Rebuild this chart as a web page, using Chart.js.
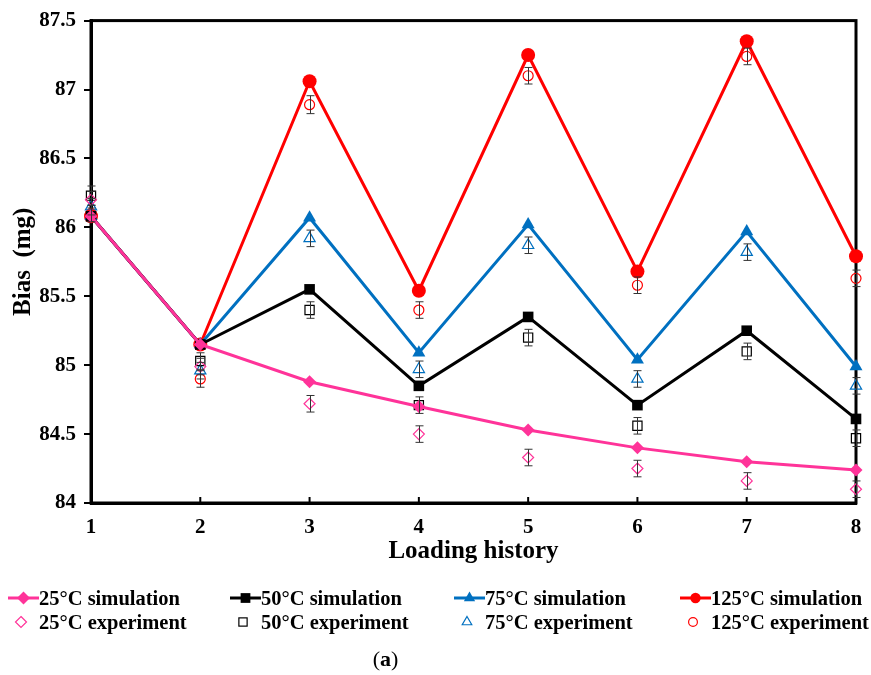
<!DOCTYPE html>
<html>
<head>
<meta charset="utf-8">
<script src="https://cdn.jsdelivr.net/npm/chart.js@4.4.1/dist/chart.umd.min.js"></script>
<style>
  body { margin: 0; background: #fff; }
  #wrap { position: relative; width: 871px; height: 675px; font-family: "Liberation Serif", "Times New Roman", serif; font-weight: bold; }
  #biasChart { position: absolute; left: 0; top: 0; }
  .leg { position: absolute; height: 24px; line-height: 24px; font-size: 20.5px; white-space: nowrap; }
  .leg svg { position: absolute; top: 0; }
  .leg span { position: absolute; top: 0; }
  #caption { position: absolute; left: 0; width: 771px; top: 646px; text-align: center; font-size: 22px; }
  #caption span { font-weight: normal; }
</style>
</head>
<body>
<div id="wrap">
  <canvas id="biasChart" width="871" height="675"></canvas>
  <div id="legend"></div>
  <div id="caption"><span>(</span>a<span>)</span></div>
</div>
<script>
// loading steps and y ticks
const steps = [1, 2, 3, 4, 5, 6, 7, 8];
const yMin = 84, yMax = 87.5, yStep = 0.5;

// simulation values (mg)
const sim25 = [86.08, 85.15, 84.88, 84.70, 84.53, 84.40, 84.30, 84.24];
const sim50 = [86.08, 85.15, 85.55, 84.85, 85.35, 84.71, 85.25, 84.61];
const sim75 = [86.08, 85.15, 86.07, 85.09, 86.02, 85.04, 85.97, 84.99];
const sim125 = [86.08, 85.15, 87.06, 85.54, 87.25, 85.68, 87.35, 85.79];

// experiment values (mg) and error half-ranges
const exp25 = [86.20, 84.99, 84.72, 84.50, 84.33, 84.25, 84.16, 84.10];
const exp50 = [86.23, 85.03, 85.40, 84.71, 85.20, 84.56, 85.10, 84.47];
const exp75 = [86.15, 84.96, 85.92, 84.97, 85.87, 84.90, 85.82, 84.85];
const exp125 = [86.10, 84.90, 86.89, 85.40, 87.10, 85.58, 87.24, 85.63];
const err25 = [0.06, 0.06, 0.06, 0.06, 0.06, 0.06, 0.06, 0.06];
const err50 = [0.07, 0.06, 0.06, 0.06, 0.06, 0.06, 0.06, 0.06];
const err75 = [0.06, 0.06, 0.06, 0.06, 0.06, 0.06, 0.06, 0.06];
const err125 = [0.06, 0.06, 0.065, 0.06, 0.06, 0.06, 0.06, 0.06];

const pink = "#ff3399", blue = "#0070c0", red = "#ff0000", black = "#000000";
const FONT = "'Liberation Serif', 'Times New Roman', serif";

const pts = (vals) => steps.map((s, i) => ({ x: s, y: vals[i] }));

const simSet = (label, vals, color, style, r) => ({
  label: label, data: pts(vals), borderColor: color, backgroundColor: color,
  borderWidth: 3, pointStyle: style, pointRadius: r, pointBorderWidth: 0,
  pointBackgroundColor: color, order: 1, clip: false, tension: 0
});
const expSet = (label, vals, errs, color, style, r) => ({
  label: label, data: pts(vals), errors: errs, showLine: false,
  borderColor: color, backgroundColor: "rgba(0,0,0,0)", pointStyle: style,
  pointRadius: r, pointBorderWidth: 1.2, pointBorderColor: color,
  pointBackgroundColor: "rgba(0,0,0,0)", order: 2, clip: false
});

const datasets = [
  simSet("25°C simulation", sim25, pink, "rectRot", 6.5),
  simSet("50°C simulation", sim50, black, "rect", 7.5),
  simSet("75°C simulation", sim75, blue, "triangle", 7.5),
  simSet("125°C simulation", sim125, red, "circle", 7),
  expSet("25°C experiment", exp25, err25, pink, "rectRot", 5.5),
  expSet("50°C experiment", exp50, err50, black, "rect", 6.5),
  expSet("75°C experiment", exp75, err75, blue, "triangle", 6.5),
  expSet("125°C experiment", exp125, err125, red, "circle", 5)
];

// frame round the plot area, inward x ticks
const framePlugin = {
  id: "frame",
  beforeDatasetsDraw(chart) {
    const { ctx, chartArea: a, scales } = chart;
    ctx.save();
    ctx.strokeStyle = black;
    ctx.lineWidth = 3;
    ctx.strokeRect(a.left, a.top, a.right - a.left, a.bottom - a.top);
    ctx.lineWidth = 2;
    steps.forEach(s => {
      const px = scales.x.getPixelForValue(s);
      ctx.beginPath();
      ctx.moveTo(px, a.bottom);
      ctx.lineTo(px, a.bottom - 6);
      ctx.stroke();
    });
    ctx.restore();
  }
};

// error bars on the experiment series
const errorPlugin = {
  id: "errorBars",
  afterDatasetsDraw(chart) {
    const { ctx, scales } = chart;
    ctx.save();
    ctx.strokeStyle = "#333";
    ctx.lineWidth = 1;
    chart.data.datasets.forEach(ds => {
      if (!ds.errors) return;
      ds.data.forEach((p, i) => {
        const x = Math.round(scales.x.getPixelForValue(p.x)) + 0.5;
        const y1 = scales.y.getPixelForValue(p.y + ds.errors[i]);
        const y2 = scales.y.getPixelForValue(p.y - ds.errors[i]);
        ctx.beginPath();
        ctx.moveTo(x, y1); ctx.lineTo(x, y2);
        ctx.moveTo(x - 4, y1); ctx.lineTo(x + 4, y1);
        ctx.moveTo(x - 4, y2); ctx.lineTo(x + 4, y2);
        ctx.stroke();
      });
    });
    ctx.restore();
  }
};

new Chart(document.getElementById("biasChart").getContext("2d"), {
  type: "line",
  data: { datasets: datasets },
  plugins: [framePlugin, errorPlugin],
  options: {
    responsive: false,
    animation: false,
    layout: { padding: { left: 0, top: 17, right: 15, bottom: 100 } },
    plugins: { legend: { display: false }, tooltip: { enabled: false } },
    scales: {
      x: {
        type: "linear", min: 1, max: 8,
        afterFit: (s) => { s.height = 72; },
        grid: { display: false },
        border: { display: true, color: black, width: 3 },
        ticks: { stepSize: 1, autoSkip: false, padding: 4, color: black,
                 font: { family: FONT, size: 21, weight: "bold" } },
        title: { display: true, text: "Loading history", color: black,
                 padding: { top: 0, bottom: 8 },
                 font: { family: FONT, size: 25, weight: "bold" } }
      },
      y: {
        min: yMin, max: yMax,
        afterFit: (s) => { s.width = 91; },
        grid: { drawOnChartArea: false, tickLength: 7, color: black, lineWidth: 2 },
        border: { display: true, color: black, width: 3 },
        ticks: { stepSize: yStep, padding: 8, color: black,
                 callback: (v) => String(Math.round(v * 10) / 10),
                 font: { family: FONT, size: 21, weight: "bold" } },
        title: { display: true, text: "Bias  (mg)", color: black,
                 padding: { top: 9, bottom: 0 },
                 font: { family: FONT, size: 25, weight: "bold" } }
      }
    }
  }
});

// legend below the chart, two rows of four
const legendItems = [
  { text: "25°C simulation", color: pink, shape: "diamond", line: true, left: 8, top: 586 },
  { text: "50°C simulation", color: black, shape: "square", line: true, left: 230, top: 586 },
  { text: "75°C simulation", color: blue, shape: "triangle", line: true, left: 454, top: 586 },
  { text: "125°C simulation", color: red, shape: "circle", line: true, left: 680, top: 586 },
  { text: "25°C experiment", color: pink, shape: "diamond", line: false, left: 8, top: 610 },
  { text: "50°C experiment", color: black, shape: "square", line: false, left: 230, top: 610 },
  { text: "75°C experiment", color: blue, shape: "triangle", line: false, left: 454, top: 610 },
  { text: "125°C experiment", color: red, shape: "circle", line: false, left: 680, top: 610 }
];

function markerSvg(shape, color, filled, cx, cy, r) {
  const fill = filled ? color : "none";
  const sw = filled ? 0 : 1.2;
  if (shape === "diamond")
    return `<polygon points="${cx},${cy - r} ${cx + r},${cy} ${cx},${cy + r} ${cx - r},${cy}" fill="${fill}" stroke="${color}" stroke-width="${sw}"/>`;
  if (shape === "square")
    return `<rect x="${cx - r * 0.75}" y="${cy - r * 0.75}" width="${r * 1.5}" height="${r * 1.5}" fill="${fill}" stroke="${color}" stroke-width="${sw}"/>`;
  if (shape === "triangle")
    return `<polygon points="${cx},${cy - r} ${cx + r * 0.87},${cy + r * 0.5} ${cx - r * 0.87},${cy + r * 0.5}" fill="${fill}" stroke="${color}" stroke-width="${sw}"/>`;
  return `<circle cx="${cx}" cy="${cy}" r="${r * 0.8}" fill="${fill}" stroke="${color}" stroke-width="${sw}"/>`;
}

const legendBox = document.getElementById("legend");
legendItems.forEach(it => {
  const div = document.createElement("div");
  div.className = "leg";
  div.style.left = it.left + "px";
  div.style.top = it.top + "px";
  let svg;
  if (it.line) {
    svg = `<svg width="31" height="24" style="left:0"><line x1="0" y1="12" x2="31" y2="12" stroke="${it.color}" stroke-width="3"/>${markerSvg(it.shape, it.color, true, 15.5, 12, 6.5)}</svg>`;
  } else {
    svg = `<svg width="31" height="24" style="left:0">${markerSvg(it.shape, it.color, false, 13, 12, 5.5)}</svg>`;
  }
  div.innerHTML = svg + `<span style="left:31px">${it.text}</span>`;
  legendBox.appendChild(div);
});
</script>
</body>
</html>
